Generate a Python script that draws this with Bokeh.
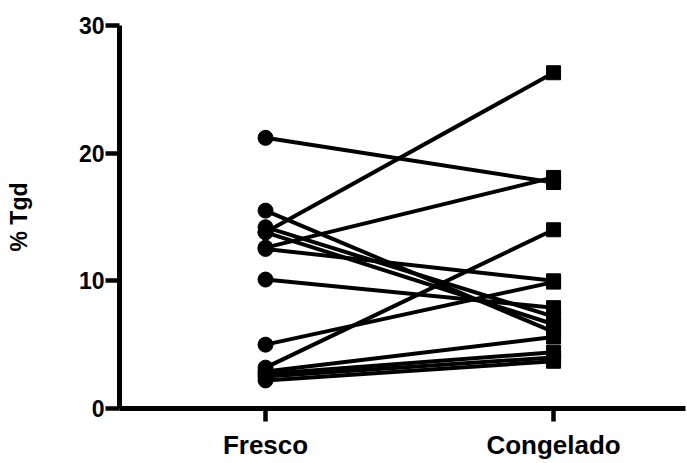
from bokeh.plotting import figure
from bokeh.models import Range1d, FixedTicker, ColumnDataSource
from bokeh.embed import file_html
from bokeh.resources import INLINE

# Data
categories = ["Fresco", "Congelado"]
fresco    = [21.2, 15.5, 14.2, 13.8, 13.8, 12.6, 12.5, 10.1, 5.0, 3.2, 2.9, 2.7, 2.5, 2.2]
congelado = [17.7, 6.0, 7.2, 26.3, 6.6, 18.1, 10.0, 7.9, 9.9, 14.0, 5.6, 4.4, 4.0, 3.7]
y_ticks = [0, 10, 20, 30]
y_label = "% Tgd"

n = len(fresco)
src = ColumnDataSource(dict(x0=[0] * n, y0=fresco, x1=[1] * n, y1=congelado))

p = figure(width=687, height=463, output_backend="svg", toolbar_location=None,
           x_range=Range1d(-0.507, 1.458), y_range=Range1d(0, 30),
           min_border_left=119, min_border_right=2, min_border_top=25, min_border_bottom=55)
p.outline_line_color = None
p.xgrid.visible = False
p.ygrid.visible = False
p.background_fill_color = "white"
p.border_fill_color = "white"

p.segment(x0="x0", y0="y0", x1="x1", y1="y1", source=src, line_color="black", line_width=4)
p.scatter(x="x0", y="y0", source=src, marker="circle", size=15, fill_color="black", line_color="black")
p.scatter(x="x1", y="y1", source=src, marker="square", size=14, fill_color="black", line_color="black")

# Axes
for ax in (p.xaxis[0], p.yaxis[0]):
    ax.axis_line_width = 5
    ax.major_tick_line_width = 4.5
    ax.minor_tick_line_color = None
    ax.major_tick_in = 0
    ax.major_label_text_font = "Liberation Sans"
    ax.major_label_text_font_style = "bold"
    ax.major_label_text_color = "black"
    ax.axis_line_color = "black"
    ax.major_tick_line_color = "black"

p.xaxis.ticker = FixedTicker(ticks=[0, 1])
p.xaxis.major_label_overrides = {0: categories[0], 1: categories[1]}
p.xaxis.major_tick_out = 13
p.xaxis.major_label_text_font_size = "26px"
p.xaxis.major_label_standoff = 8

p.yaxis.ticker = FixedTicker(ticks=y_ticks)
p.yaxis.major_tick_out = 14
p.yaxis.major_label_text_font_size = "23px"
p.yaxis.major_label_standoff = 1

p.yaxis.axis_label = y_label
p.yaxis.axis_label_text_font = "Liberation Sans"
p.yaxis.axis_label_text_font_style = "bold"
p.yaxis.axis_label_text_font_size = "23px"
p.yaxis.axis_label_text_color = "black"
p.yaxis.axis_label_standoff = 44

open("out.html", "w").write(file_html(p, INLINE))
